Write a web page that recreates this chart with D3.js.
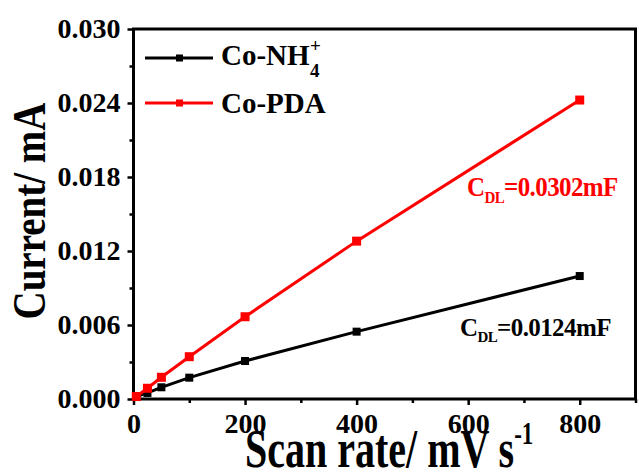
<!DOCTYPE html>
<html>
<head>
<meta charset="utf-8">
<script src="https://cdn.jsdelivr.net/npm/d3@7"></script>
<style>
  body { margin: 0; background: #fff; }
  svg text { font-family: 'Times New Roman', 'Liberation Serif', serif; font-weight: bold; }
</style>
</head>
<body>
<svg id="chart" width="639" height="472"></svg>
<script>
// scan rate (mV/s) vs current (mA)
const scanRates = [5, 25, 50, 100, 200, 400, 800];
const coNH4 = [0.0002, 0.00049, 0.00095, 0.00173, 0.00308, 0.00546, 0.00997];
const coPDA = [0.0002, 0.00087, 0.00176, 0.00343, 0.00667, 0.0128, 0.02424];

const xMajor = [0, 200, 400, 600, 800];
const xMinor = [100, 300, 500, 700, 900];
const yMajor = [0, 0.006, 0.012, 0.018, 0.024, 0.03];
const yMinor = [0.003, 0.009, 0.015, 0.021, 0.027];

const series = [
  { name: 'Co-NH4', values: coNH4, color: '#000000', marker: 8 },
  { name: 'Co-PDA', values: coPDA, color: '#ff0000', marker: 9 },
];

const svg = d3.select('#chart');
const plotLeft = 133.5;
const plotRight = 635.5;
const plotTop = 29;
const plotBottom = 399;

const x = d3.scaleLinear().domain([0, 900]).range([plotLeft, plotRight]);
const y = d3.scaleLinear().domain([0, 0.03]).range([plotBottom, plotTop]);

// minor ticks first, then major with labels
svg
  .append('g')
  .attr('transform', `translate(0,${plotBottom})`)
  .call(d3.axisBottom(x).tickValues(xMinor).tickSize(4).tickFormat(''))
  .call((g) => g.select('.domain').remove());
svg
  .append('g')
  .attr('transform', `translate(${plotLeft},0)`)
  .call(d3.axisLeft(y).tickValues(yMinor).tickSize(4).tickFormat(''))
  .call((g) => g.select('.domain').remove());

const xAxis = svg
  .append('g')
  .attr('transform', `translate(0,${plotBottom})`)
  .call(d3.axisBottom(x).tickValues(xMajor).tickSize(6).tickPadding(8).tickFormat(d3.format('d')))
  .call((g) => g.select('.domain').remove());

const yAxis = svg
  .append('g')
  .attr('transform', `translate(${plotLeft},0)`)
  .call(d3.axisLeft(y).tickValues(yMajor).tickSize(6).tickPadding(7).tickFormat(d3.format('.3f')))
  .call((g) => g.select('.domain').remove());

svg.selectAll('.tick line').attr('stroke', '#000').attr('stroke-width', 2.5);
[xAxis, yAxis].forEach((g) =>
  g.selectAll('text').attr('fill', '#000').attr('font-size', 28).style('font-family', "'Times New Roman', 'Liberation Serif', serif")
);

// frame
svg
  .append('rect')
  .attr('x', plotLeft)
  .attr('y', plotTop)
  .attr('width', plotRight - plotLeft)
  .attr('height', plotBottom - plotTop)
  .attr('fill', 'none')
  .attr('stroke', '#000')
  .attr('stroke-width', 3);

const line = d3
  .line()
  .x((d, i) => x(scanRates[i]))
  .y((d) => y(d));

series.forEach((s) => {
  svg
    .append('path')
    .datum(s.values)
    .attr('fill', 'none')
    .attr('stroke', s.color)
    .attr('stroke-width', 3)
    .attr('d', line);

  svg
    .append('g')
    .selectAll('rect')
    .data(s.values)
    .join('rect')
    .attr('x', (d, i) => x(scanRates[i]) - s.marker / 2)
    .attr('y', (d) => y(d) - s.marker / 2)
    .attr('width', s.marker)
    .attr('height', s.marker)
    .attr('fill', s.color);
});

// legend
const legendRows = [
  { color: '#000000', y: 58, base: 65 },
  { color: '#ff0000', y: 103, base: 113 },
];
legendRows.forEach((r) => {
  svg
    .append('line')
    .attr('x1', 145)
    .attr('x2', 213)
    .attr('y1', r.y)
    .attr('y2', r.y)
    .attr('stroke', r.color)
    .attr('stroke-width', 3);
  svg
    .append('rect')
    .attr('x', 176)
    .attr('y', r.y - 3.5)
    .attr('width', 7)
    .attr('height', 7)
    .attr('fill', r.color);
});

const nh4 = svg.append('text').attr('x', 221).attr('y', legendRows[0].base).attr('font-size', 29).attr('fill', '#000');
nh4.append('tspan').text('Co-NH');
nh4.append('tspan').attr('x', 310).attr('y', 52).attr('font-size', 19).text('+');
nh4.append('tspan').attr('x', 310).attr('y', 77).attr('font-size', 19).text('4');

svg
  .append('text')
  .attr('x', 221)
  .attr('y', legendRows[1].base)
  .attr('font-size', 29)
  .attr('fill', '#000')
  .text('Co-PDA');

// capacitance labels
function cdl(xPos, yPos, color, scaleY, value) {
  const t = svg
    .append('text')
    .attr('transform', `translate(${xPos},${yPos}) scale(1,${scaleY})`)
    .attr('font-size', 25)
    .attr('fill', color)
    .attr('letter-spacing', -0.6);
  t.append('tspan').text('C');
  t.append('tspan').attr('dy', 6).attr('font-size', 15).text('DL');
  t.append('tspan').attr('dy', -6).text(`=${value}mF`);
}
cdl(460, 336, '#000000', 1.0, '0.0124');
cdl(467, 196, '#ff0000', 1.12, '0.0302');

// axis titles
const xTitle = svg
  .append('text')
  .attr('transform', 'translate(245,467) scale(1,1.38)')
  .attr('font-size', 40)
  .attr('fill', '#000');
xTitle.append('tspan').text('Scan rate/ mV s');
xTitle.append('tspan').attr('dy', -17).attr('font-size', 23).text('-1');

svg
  .append('text')
  .attr('transform', 'translate(45,211) rotate(-90) scale(1,1.17)')
  .attr('text-anchor', 'middle')
  .attr('font-size', 39)
  .attr('fill', '#000')
  .text('Current/ mA');
</script>
</body>
</html>
